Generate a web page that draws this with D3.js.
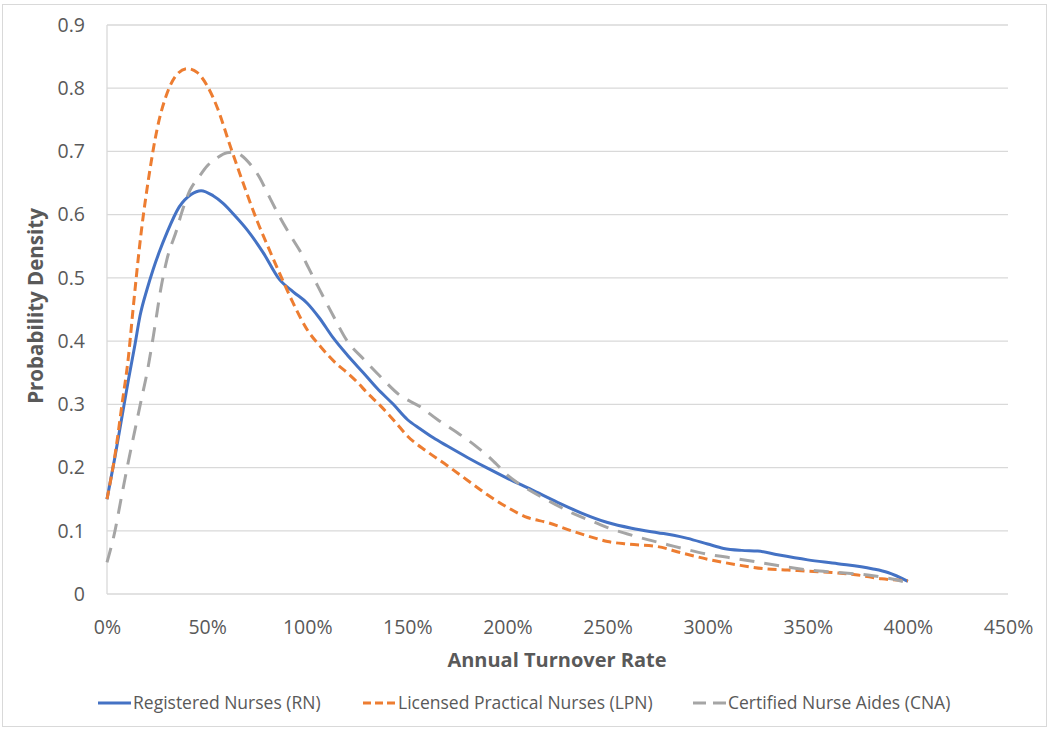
<!DOCTYPE html>
<html><head><meta charset="utf-8">
<script src="https://cdn.jsdelivr.net/npm/d3@7"></script>
<style>
html,body{margin:0;padding:0;background:#fff;}
text{font-family:"Open Sans","Noto Sans",sans-serif;}
</style></head>
<body><svg id="c" width="1050" height="732"></svg>
<script>
// ---- data ----
const rnX  = [0,4,8,10.7,14,16.5,20,23,26,30,36,42,47,53,58,64,70,78,86,93,100,106,113,120,128,135,143,150,156.5,163,170,180,190,200,212,225,237,250,262,275,283,290,300,308,317,325,335,350,365,382,390,400];
const rnY  = [0.15,0.217,0.29,0.339,0.395,0.44,0.482,0.513,0.54,0.572,0.612,0.632,0.638,0.63,0.618,0.598,0.576,0.54,0.498,0.478,0.46,0.437,0.405,0.378,0.35,0.325,0.3,0.276,0.261,0.247,0.234,0.216,0.199,0.183,0.165,0.145,0.128,0.113,0.104,0.097,0.093,0.088,0.079,0.072,0.069,0.068,0.062,0.054,0.048,0.04,0.034,0.02];
const lpnX = [0,4,7.5,10.7,13,17,21,25,30,35,40,45,50,55,61.5,68,75,81,86.5,93,100,107,115,120,125,130,136.5,144,150,160,170,180,190,200,210,220,232,242,250,260,275,287,300,315,328,340,350,362,375,387,400];
const lpnY = [0.15,0.22,0.3,0.375,0.45,0.57,0.662,0.735,0.792,0.822,0.831,0.825,0.804,0.77,0.709,0.65,0.59,0.545,0.505,0.46,0.418,0.39,0.363,0.35,0.335,0.318,0.298,0.272,0.25,0.225,0.203,0.18,0.157,0.137,0.121,0.113,0.1,0.09,0.083,0.079,0.075,0.065,0.055,0.046,0.04,0.038,0.036,0.034,0.03,0.024,0.021];
const cnaX = [0,4,7,10.7,14,17.3,20,23,27.3,30,34.8,37,41.5,46,50,55,60,64,67,72,76,80,86,93,96.5,100,104.8,113,120,128,136.5,146,156.5,165,175,180,185,190,194,200,205,210,222,233,244,250,260,270,280,290,300,310,320,335,350,365,380,390,400];
const cnaY = [0.05,0.1,0.15,0.21,0.26,0.31,0.35,0.405,0.49,0.53,0.576,0.6,0.639,0.66,0.677,0.69,0.698,0.699,0.694,0.678,0.66,0.635,0.598,0.56,0.542,0.52,0.49,0.44,0.40,0.372,0.344,0.315,0.296,0.276,0.255,0.244,0.232,0.219,0.207,0.188,0.176,0.166,0.145,0.127,0.113,0.105,0.095,0.086,0.078,0.07,0.063,0.058,0.053,0.045,0.038,0.034,0.03,0.025,0.018];
const seriesNames = ["Registered Nurses (RN)","Licensed Practical Nurses (LPN)","Certified Nurse Aides (CNA)"];
const xTicks = [0,50,100,150,200,250,300,350,400,450];
const yTicks = [0,0.1,0.2,0.3,0.4,0.5,0.6,0.7,0.8,0.9];

const svg = d3.select("#c");
svg.append("rect").attr("x",2.5).attr("y",4.5).attr("width",1044).attr("height",722)
  .attr("fill","#fff").attr("stroke","#d9d9d9").attr("stroke-width",1);

const L=107, R=1008, T=25, B=594;
const x = d3.scaleLinear().domain([0,450]).range([L,R]);
const y = d3.scaleLinear().domain([0,0.9]).range([B,T]);

// gridlines
svg.append("g").selectAll("line").data(yTicks.slice(1)).join("line")
  .attr("x1",L).attr("x2",R).attr("y1",d=>y(d)).attr("y2",d=>y(d))
  .attr("stroke","#d9d9d9").attr("stroke-width",1.3);
// axis lines
svg.append("line").attr("x1",L).attr("x2",L).attr("y1",T).attr("y2",B).attr("stroke","#d9d9d9").attr("stroke-width",1.3);
svg.append("line").attr("x1",L).attr("x2",R).attr("y1",B).attr("y2",B).attr("stroke","#d9d9d9").attr("stroke-width",1.3);

// y tick labels
const yAxis = d3.axisLeft(y).tickValues(yTicks).tickSize(0).tickPadding(22)
  .tickFormat(d=> d===0 ? "0" : d3.format(".1f")(d));
const gy = svg.append("g").attr("transform",`translate(${L},0)`).call(yAxis);
gy.select(".domain").remove();
gy.selectAll("text").attr("font-size",19.5).attr("fill","#595959").attr("font-family","'Open Sans',sans-serif");

// x tick labels
const xAxis = d3.axisBottom(x).tickValues(xTicks).tickSize(0).tickPadding(26).tickFormat(d=>d+"%");
const gx = svg.append("g").attr("transform",`translate(0,${B})`).call(xAxis);
gx.select(".domain").remove();
gx.selectAll("text").attr("font-size",19.5).attr("fill","#595959").attr("font-family","'Open Sans',sans-serif");

// axis titles
svg.append("text").attr("x",557).attr("y",667).attr("text-anchor","middle")
  .attr("font-size",20).attr("font-weight","bold").attr("fill","#595959").text("Annual Turnover Rate");
svg.append("text").attr("transform","translate(43,306) rotate(-90)").attr("text-anchor","middle")
  .attr("font-size",20.5).attr("font-weight","bold").attr("fill","#595959").text("Probability Density");

// lines
const styles = [
  {c:"#4472C4", dash:null, w:3},
  {c:"#ED7D31", dash:"9,5", w:3},
  {c:"#A5A5A5", dash:"15,10", w:3}
];
const data = [
  rnX.map((v,i)=>[v,rnY[i]]),
  lpnX.map((v,i)=>[v,lpnY[i]]),
  cnaX.map((v,i)=>[v,cnaY[i]])
];
const line = d3.line().x(d=>x(d[0])).y(d=>y(d[1])).curve(d3.curveMonotoneX);
data.forEach((d,i)=>{
  svg.append("path").datum(d).attr("d",line).attr("fill","none")
    .attr("stroke",styles[i].c).attr("stroke-width",styles[i].w)
    .attr("stroke-dasharray",styles[i].dash).attr("stroke-linejoin","round");
});

// legend
const legX = [98,363,693];
const lg = svg.append("g");
seriesNames.forEach((n,i)=>{
  lg.append("line").attr("x1",legX[i]).attr("x2",legX[i]+33).attr("y1",703).attr("y2",703)
    .attr("stroke",styles[i].c).attr("stroke-width",3).attr("stroke-dasharray",styles[i].dash ? (i===1?"8,4":"13,7") : null);
  lg.append("text").attr("x",legX[i]+35).attr("y",709).attr("font-size",17.5).attr("fill","#595959").text(n);
});
</script></body></html>
